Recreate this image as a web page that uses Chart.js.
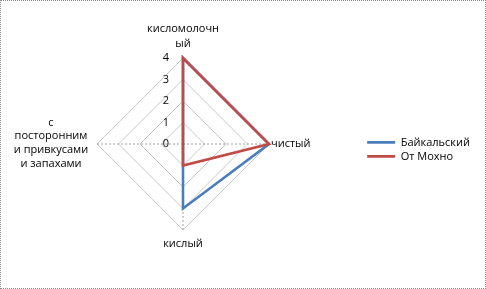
<!DOCTYPE html>
<html><head><meta charset="utf-8">
<script src="https://cdn.jsdelivr.net/npm/chart.js@4/dist/chart.umd.min.js"></script>
<style>
html,body{margin:0;padding:0;background:#fff;}
#wrap{position:absolute;left:0;top:0;width:486px;height:289px;box-sizing:border-box;border:1px dotted #888;}
canvas{display:block;}
</style></head><body>
<div id="wrap"><canvas id="c" width="484" height="287"></canvas></div>
<script>
const categories = [['кисломолочн','ый'], 'чистый', 'кислый', ['с','посторонним','и привкусами','и запахами']];
const baikalsky = [4, 4, 3, 0];
const otMokhno = [4, 4, 1, 0];
const tickValues = [0, 1, 2, 3, 4];
const seriesNames = ['Байкальский', 'От Мохно'];

const FONT = '"Open Sans", "Liberation Sans", sans-serif';

const labelPlugin = {
  id: 'customLabels',
  afterDraw(chart) {
    const s = chart.scales.r;
    const ctx = chart.ctx;
    ctx.save();
    ctx.font = '11px ' + FONT;
    ctx.fillStyle = '#000';
    ctx.textBaseline = 'middle';
    // tick labels, left of the vertical axis
    ctx.textAlign = 'right';
    tickValues.forEach(v => {
      const p = s.getPointPositionForValue(0, v);
      ctx.fillText(String(v), p.x - 14, p.y);
    });
    // category labels
    const R = s.drawingArea;
    categories.forEach((lab, i) => {
      const lines = Array.isArray(lab) ? lab : [lab];
      const p = s.getPointPosition(i, R);
      const lh = 14;
      if (i === 0) {
        ctx.textAlign = 'center';
        lines.forEach((t, k) => ctx.fillText(t, p.x, p.y - 14 - (lines.length - 1 - k) * 15));
      } else if (i === 1) {
        ctx.textAlign = 'left';
        lines.forEach((t, k) => ctx.fillText(t, p.x + 2, p.y + (k - (lines.length - 1) / 2) * lh));
      } else if (i === 2) {
        ctx.textAlign = 'center';
        lines.forEach((t, k) => ctx.fillText(t, p.x, p.y + 14 + k * lh));
      } else {
        ctx.textAlign = 'center';
        lines.forEach((t, k) => ctx.fillText(t, p.x - 46, p.y - 1 + (k - (lines.length - 1) / 2) * 13.7));
      }
    });
    ctx.restore();
  }
};

const chart = new Chart(document.getElementById('c'), {
  type: 'radar',
  data: {
    labels: categories,
    datasets: [
      {label: seriesNames[0], data: baikalsky, borderColor: '#4a7ebb', backgroundColor: '#4a7ebb', borderWidth: 2.6, pointRadius: 0, fill: false, order: 1},
      {label: seriesNames[1], data: otMokhno, borderColor: '#be4b48', backgroundColor: '#be4b48', borderWidth: 2.6, pointRadius: 0, fill: false, order: 0}
    ]
  },
  options: {
    responsive: false,
    animation: false,
    layout: {padding: {left: 10, right: 5, top: 57, bottom: 58}},
    plugins: {
      legend: {
        position: 'right',
        title: {display: true, text: '', font: {size: 9}, padding: 0},
        labels: {
          usePointStyle: true, pointStyle: 'line', pointStyleWidth: 28, boxHeight: 6,
          font: {size: 11, family: FONT}, color: '#000', padding: 3,
          sort: (a, b) => a.datasetIndex - b.datasetIndex
        }
      },
      tooltip: {enabled: false}
    },
    scales: {
      r: {
        min: 0, max: 4,
        ticks: {stepSize: 1, display: false},
        grid: {color: '#c8c8c8', lineWidth: 1},
        angleLines: {color: '#a0a0a0', borderDash: [2, 2], lineWidth: 1},
        pointLabels: {display: false}
      }
    }
  },
  plugins: [labelPlugin]
});
// center the radar horizontally where the reference has it
const dx = 182 - chart.scales.r.xCenter;
chart.options.layout.padding.left += 2 * dx;
chart.update();
</script></body></html>
